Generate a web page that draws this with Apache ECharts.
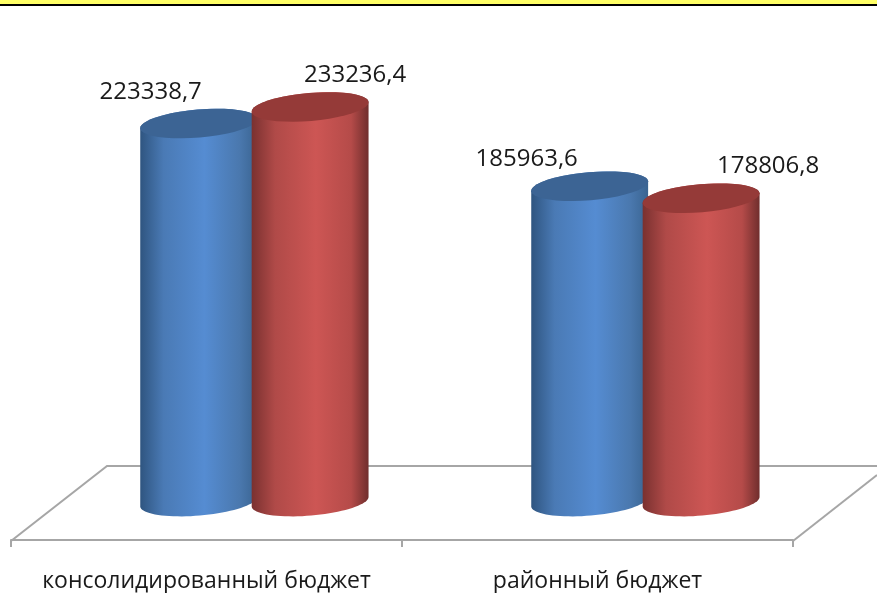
<!DOCTYPE html>
<html>
<head>
<meta charset="utf-8">
<title>chart</title>
<script src="https://cdn.jsdelivr.net/npm/echarts@6/dist/echarts.min.js"></script>
<style>
  html, body { margin: 0; padding: 0; background: #fff; }
  #chart { width: 877px; height: 593px; }
</style>
</head>
<body>
<div id="chart"></div>
<script>
const categories = ['консолидированный бюджет', 'районный бюджет']
const firstValues = [223338.7, 185963.6]
const secondValues = [233236.4, 178806.8]

// label offsets from the middle of the cylinder top, in px
const firstLabelShift = [[-48, -31], [-63, -27]]
const secondLabelShift = [[45, -32], [67, -32]]

const fontName = '"Open Sans", "Noto Sans", sans-serif'

function ellipsePoints (cx, cy, rx, ry, from, to) {
  // tilted ellipse, right side a bit higher than the left
  let tilt = -0.085
  let pts = []
  for (let i = 0; i <= 40; i++) {
    let a = from + (to - from) * i / 40
    let x = rx * Math.cos(a)
    let y = ry * Math.sin(a)
    pts.push([cx + x * Math.cos(tilt) - y * Math.sin(tilt), cy + x * Math.sin(tilt) + y * Math.cos(tilt)])
  }
  return pts
}

function cylinder (shift, stops, topColor, labelShift) {
  return function (params, api) {
    let idx = api.value(0)
    let val = api.value(1)
    let band = api.size([1, 0])[0]
    let base = api.coord([idx, 0])
    let top = api.coord([idx, val])
    let cx = base[0] + band * shift
    let rx = band * 0.15
    let lower = ellipsePoints(cx, base[1] + 3.5, rx, 14, 0, Math.PI)
    let upper = ellipsePoints(cx, top[1], rx, 14, Math.PI, 2 * Math.PI)
    let d = labelShift[idx]
    return {
      type: 'group',
      children: [{
        type: 'polygon',
        shape: { points: lower.concat(upper) },
        style: { fill: new echarts.graphic.LinearGradient(0, 0, 1, 0, stops) }
      }, {
        type: 'polygon',
        shape: { points: ellipsePoints(cx, top[1], rx, 14, 0, 2 * Math.PI) },
        style: { fill: topColor }
      }, {
        type: 'text',
        style: {
          x: cx + d[0],
          y: top[1] + d[1],
          text: String(val).replace('.', ','),
          fill: '#1a1a1a',
          font: '24px ' + fontName,
          textAlign: 'center',
          textVerticalAlign: 'middle'
        }
      }]
    }
  }
}

const blueStops = [
  { offset: 0, color: '#2f5580' },
  { offset: 0.2, color: '#4a7ab5' },
  { offset: 0.55, color: '#558cd2' },
  { offset: 0.85, color: '#4a78ae' },
  { offset: 1, color: '#3a6491' }
]
const redStops = [
  { offset: 0, color: '#7a3130' },
  { offset: 0.2, color: '#b04a48' },
  { offset: 0.55, color: '#cd5654' },
  { offset: 0.85, color: '#b54b49' },
  { offset: 1, color: '#702e2d' }
]

const floorStyle = { stroke: '#a6a6a6', lineWidth: 2, fill: null }

let myChart = echarts.init(document.getElementById('chart'))
let option = {
  animation: false,
  backgroundColor: '#fff',
  grid: { left: 11, right: 84, top: 0, bottom: 52 },
  xAxis: {
    type: 'category',
    data: categories,
    boundaryGap: true,
    axisLine: { onZero: false, lineStyle: { color: '#a6a6a6', width: 2 } },
    axisTick: { show: true, alignWithLabel: false, interval: 0, length: 7, lineStyle: { color: '#a6a6a6', width: 2 } },
    axisLabel: { color: '#1a1a1a', fontFamily: fontName, fontSize: 23, margin: 30, interval: 0 }
  },
  yAxis: {
    type: 'value',
    min: -25000,
    max: 297000,
    show: false
  },
  graphic: [
    { type: 'rect', shape: { x: 0, y: 0, width: 877, height: 4 }, style: { fill: '#ffff66' } },
    { type: 'rect', shape: { x: 0, y: 4, width: 877, height: 2 }, style: { fill: '#000' } },
    { type: 'polyline', shape: { points: [[11, 541], [107, 466], [877, 466]] }, style: floorStyle },
    { type: 'line', shape: { x1: 793, y1: 541, x2: 877, y2: 475 }, style: floorStyle }
  ],
  series: [{
    type: 'custom',
    clip: false,
    z: 2,
    data: firstValues.map((v, i) => [i, v]),
    renderItem: cylinder(-0.02, blueStops, '#3c6494', firstLabelShift)
  }, {
    type: 'custom',
    clip: false,
    z: 3,
    data: secondValues.map((v, i) => [i, v]),
    renderItem: cylinder(0.265, redStops, '#953a38', secondLabelShift)
  }]
}
myChart.setOption(option)
</script>
</body>
</html>
